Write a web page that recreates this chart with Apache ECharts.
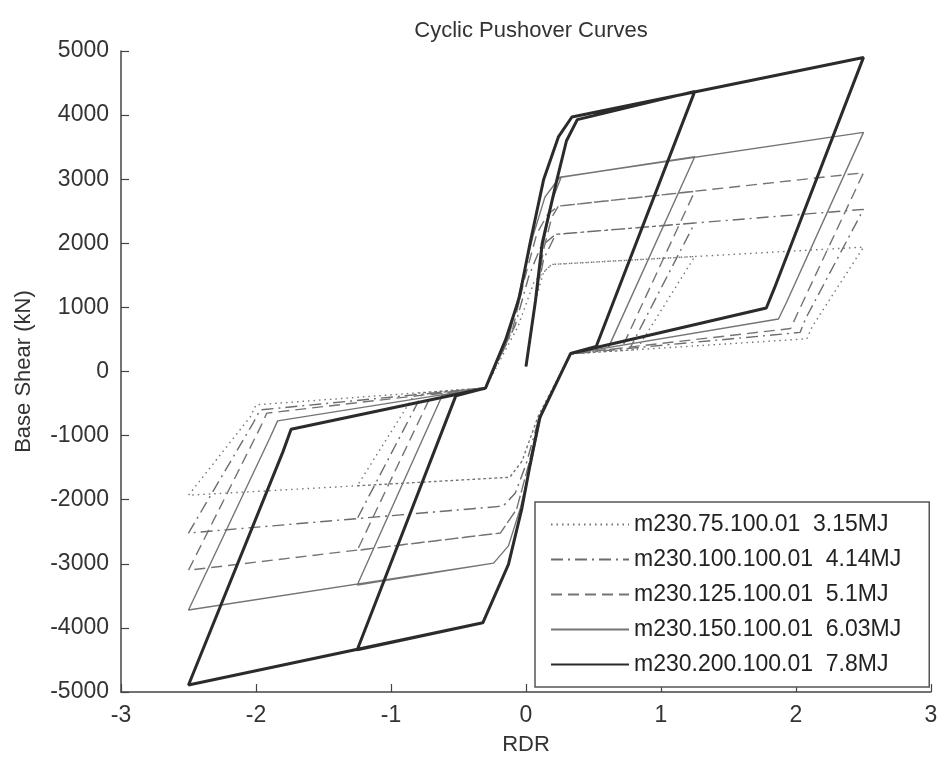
<!DOCTYPE html>
<html>
<head>
<meta charset="utf-8">
<script src="https://cdn.jsdelivr.net/npm/echarts@6/dist/echarts.min.js"></script>
<style>
html,body{margin:0;padding:0;background:#fff;}
#chart{width:944px;height:761px;}
</style>
</head>
<body>
<div id="chart"></div>
<script>
// Legend names
const seriesNames = [
  'm230.75.100.01  3.15MJ',
  'm230.100.100.01  4.14MJ',
  'm230.125.100.01  5.1MJ',
  'm230.150.100.01  6.03MJ',
  'm230.200.100.01  7.8MJ'
];
const xTicks = [-3, -2, -1, 0, 1, 2, 3];
const yTicks = [-5000, -4000, -3000, -2000, -1000, 0, 1000, 2000, 3000, 4000, 5000];

// [RDR, Base Shear (kN)]
const path75 = [
  [0,80],[0.07,1100],[0.13,1550],[0.19,1670],
  [1.25,1794],[0.82,341],[0.33,275],
  [0.09,-700],[-0.03,-1400],[-0.12,-1650],
  [-1.25,-1783],[-0.82,-340],[-0.3,-255],
  [-0.06,700],[0.06,1400],[0.19,1670],
  [2.5,1940],[2.12,700],[2.08,510],[0.33,275],
  [0.09,-700],[-0.03,-1400],[-0.12,-1650],
  [-2.5,-1930],[-2.04,-700],[-2.0,-520],[-0.3,-255]
];
const path100 = [
  [0,80],[0.07,1100],[0.13,1750],[0.22,2140],
  [1.25,2316],[0.77,362],[0.33,275],
  [0.1,-700],[0.0,-1450],[-0.08,-1900],[-0.17,-2100],
  [-1.25,-2295],[-0.77,-355],[-0.3,-255],
  [-0.08,720],[0.02,1480],[0.11,1950],[0.22,2140],
  [2.5,2530],[2.07,820],[2.03,610],[0.33,275],
  [0.1,-700],[0.0,-1450],[-0.08,-1900],[-0.17,-2100],
  [-2.5,-2520],[-2.02,-800],[-1.97,-600],[-0.3,-255]
];
const path125 = [
  [0,80],[0.07,1100],[0.13,1900],[0.19,2400],[0.24,2580],
  [1.25,2810],[0.71,366],[0.33,275],
  [0.11,-650],[0.02,-1450],[-0.07,-2150],[-0.19,-2520],
  [-1.25,-2790],[-0.7,-360],[-0.3,-255],
  [-0.1,650],[-0.01,1450],[0.08,2150],[0.16,2450],[0.24,2580],
  [2.5,3100],[2.01,900],[1.96,670],[0.33,275],
  [0.11,-650],[0.02,-1450],[-0.07,-2150],[-0.19,-2520],
  [-2.5,-3100],[-1.97,-880],[-1.92,-650],[-0.3,-255]
];
const path150 = [
  [0,80],[0.07,1100],[0.12,1900],[0.19,2650],[0.26,3030],
  [1.25,3350],[0.61,372],[0.33,275],
  [0.12,-620],[0.04,-1400],[-0.04,-2120],[-0.13,-2720],[-0.24,-2990],
  [-1.25,-3330],[-0.62,-370],[-0.3,-255],
  [-0.12,600],[-0.03,1400],[0.05,2100],[0.14,2720],[0.25,3030],
  [2.5,3730],[1.93,1080],[1.87,820],[0.33,275],
  [0.12,-620],[0.04,-1400],[-0.04,-2120],[-0.13,-2720],[-0.24,-2990],
  [-2.5,-3720],[-1.9,-1050],[-1.84,-770],[-0.3,-255]
];
const path200 = [
  [0,80],[0.07,1100],[0.12,2000],[0.23,3000],[0.3,3600],[0.38,3930],
  [1.25,4370],[0.52,390],[0.33,280],
  [0.1,-730],[0.03,-1460],[-0.03,-2130],[-0.13,-3010],[-0.32,-3920],
  [-1.25,-4340],[-0.52,-380],[-0.3,-260],
  [-0.15,500],[-0.05,1150],[0.03,2000],[0.13,2990],[0.24,3660],[0.34,3970],
  [2.5,4900],[1.84,1300],[1.78,990],[0.33,280],
  [0.1,-730],[0.03,-1460],[-0.03,-2130],[-0.13,-3010],[-0.32,-3920],
  [-2.5,-4890],[-1.8,-1250],[-1.74,-900],[-0.3,-260]
];

const FONT = '"Liberation Sans", Arial, sans-serif';
const chart = echarts.init(document.getElementById('chart'), null, {renderer: 'canvas'});

function mk(name, data, color, width, type, z) {
  return {
    name: name, type: 'line', data: data, symbol: 'none', showSymbol: false,
    smooth: false, z: z, clip: false,
    lineStyle: {color: color, width: width, type: type},
    itemStyle: {color: color},
    emphasis: {disabled: true}
  };
}

chart.setOption({
  animation: false,
  backgroundColor: '#ffffff',
  title: {
    text: 'Cyclic Pushover Curves', left: 526, top: 15, textAlign: 'center',
    textStyle: {fontFamily: FONT, fontSize: 22, fontWeight: 'normal', color: '#333'}
  },
  grid: {left: 121, right: 13, top: 51, bottom: 67, containLabel: false},
  xAxis: {
    type: 'value', min: xTicks[0], max: xTicks[xTicks.length - 1], interval: 1,
    name: 'RDR', nameLocation: 'middle', nameGap: 42,
    nameTextStyle: {fontFamily: FONT, fontSize: 22, color: '#333'},
    axisLine: {show: true, onZero: false, lineStyle: {color: '#444', width: 1.5}},
    axisTick: {show: true, inside: true, length: 8, lineStyle: {color: '#444', width: 1.2}},
    axisLabel: {fontFamily: FONT, fontSize: 23, color: '#333', margin: 12,
      formatter: function (v) { return String(v); }},
    splitLine: {show: false}
  },
  yAxis: {
    type: 'value', min: yTicks[0], max: yTicks[yTicks.length - 1], interval: 1000,
    name: 'Base Shear (kN)', nameLocation: 'middle', nameGap: 86,
    nameTextStyle: {fontFamily: FONT, fontSize: 22, color: '#333'},
    axisLine: {show: true, onZero: false, lineStyle: {color: '#444', width: 1.5}},
    axisTick: {show: true, inside: true, length: 8, lineStyle: {color: '#444', width: 1.2}},
    axisLabel: {fontFamily: FONT, fontSize: 23, color: '#333', margin: 12,
      formatter: function (v) { return String(v); }},
    splitLine: {show: false}
  },
  legend: {
    data: seriesNames, orient: 'vertical', left: 535, top: 502,
    padding: [11, 28, 11, 15], itemGap: 12, itemWidth: 78, itemHeight: 14,
    backgroundColor: '#fff', borderColor: '#555', borderWidth: 1.5,
    itemStyle: {color: 'rgba(0,0,0,0)', borderColor: 'rgba(0,0,0,0)', borderWidth: 0, opacity: 0},
    textStyle: {fontFamily: FONT, fontSize: 23, color: '#222'},
    selectedMode: false
  },
  series: [
    mk(seriesNames[0], path75, '#747474', 1.4, [1.5, 4], 2),
    mk(seriesNames[1], path100, '#6c6c6c', 1.4, [12, 5, 2, 5], 3),
    mk(seriesNames[2], path125, '#747474', 1.4, [11, 6], 4),
    mk(seriesNames[3], path150, '#747474', 1.4, 'solid', 5),
    mk(seriesNames[4], path200, '#2b2b2b', 3, 'solid', 6)
  ]
});
</script>
</body>
</html>
